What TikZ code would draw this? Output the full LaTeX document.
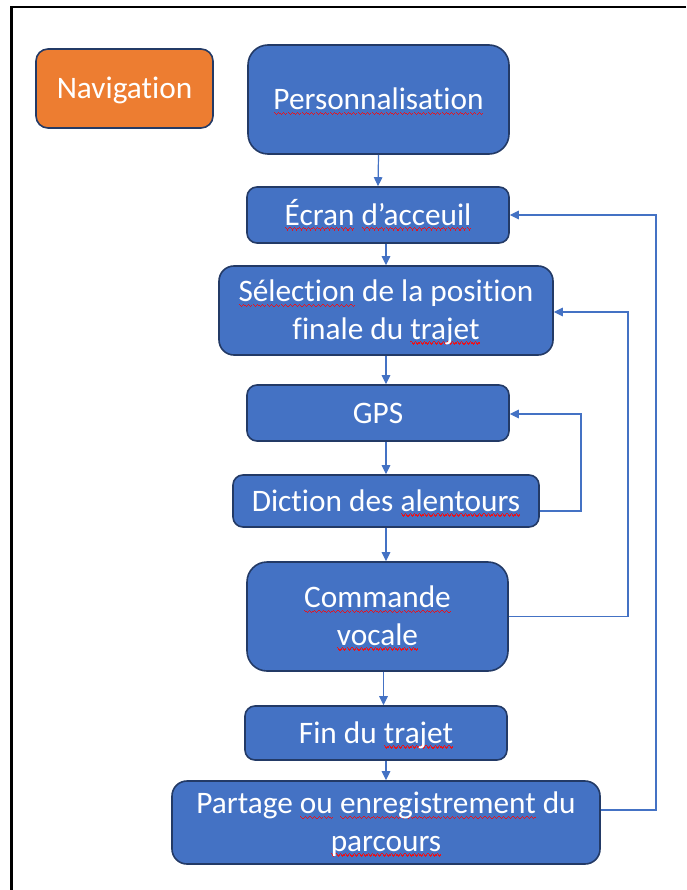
\documentclass[tikz,border=0pt]{standalone}
\usepackage{fontspec}
\setmainfont[Ligatures=NoCommon]{Carlito}
\usetikzlibrary{arrows.meta}

\definecolor{boxblue}{HTML}{4472C4}
\definecolor{boxline}{HTML}{233A66}
\definecolor{navorange}{HTML}{ED7D31}
\definecolor{linkblue}{HTML}{4472C4}
\definecolor{sqred}{HTML}{E8131C}

\newcommand\boxfont{\fontsize{31.3}{37.5}\selectfont}

% one period of a red spell-check wave, built from short rules
\newcommand\wavecell{%
  \vrule width1.15pt height-2.1pt depth3.3pt
  \vrule width1.15pt height-3.2pt depth4.4pt
  \vrule width1.15pt height-4.3pt depth5.5pt
  \vrule width1.15pt height-3.2pt depth4.4pt}
% word with a wavy underline
\newcommand\sq[1]{\setbox0\hbox{#1}%
  \rlap{\textcolor{sqred}{\hbox to\wd0{\xleaders\hbox{\wavecell}\hfill}}}%
  \box0\relax}

\begin{document}
\begin{tikzpicture}[x=1pt,y=-1pt,
  base/.style={draw=boxline, line width=1.6pt, text=white, inner sep=0pt,
    font=\boxfont, align=center},
  oneline/.style={base, text height=20.2pt, text depth=0pt},
  twoline/.style={base, text height=57.2pt, text depth=0pt},
  stepbox/.style={fill=boxblue, minimum width=#1},
  link/.style={draw=linkblue, line width=1.2pt, -{Triangle[length=9pt,width=8.5pt]}},
]
\useasboundingbox (0,0) rectangle (686,890);

% page frame
\draw[line width=2.2pt] (686,7) -- (11.5,7) -- (11.5,890);

% title tag
\node[oneline, fill=navorange, minimum width=177pt, minimum height=79pt,
      rounded corners=12pt] (nav) at (124.5,88.5) {Navigation};

% steps of the flow
\node[oneline, stepbox=261pt, minimum height=109pt, rounded corners=20pt]
  (pers) at (378.5,99.5) {\sq{Personnalisation}};
\node[oneline, stepbox=262pt, minimum height=56pt, rounded corners=10pt]
  (ecran) at (378,215) {\sq{Écran} \sq{d’acceuil}};
\node[twoline, stepbox=334pt, minimum height=89pt, rounded corners=15pt]
  (sel) at (386,310.5) {\sq{Sélection} de la position\\finale du \sq{trajet}};
\node[oneline, stepbox=262pt, minimum height=56pt, rounded corners=10pt]
  (gps) at (378,413) {GPS};
\node[oneline, stepbox=306pt, minimum height=52pt, rounded corners=10pt]
  (dic) at (386,501) {Diction des \sq{alentours}};
\node[twoline, stepbox=261pt, minimum height=109pt, rounded corners=20pt]
  (cmd) at (377.5,616.5) {\sq{Commande}\\\sq{vocale}};
\node[oneline, stepbox=262pt, minimum height=54pt, rounded corners=10pt]
  (fin) at (376,733) {Fin du \sq{trajet}};
\node[twoline, stepbox=428pt, minimum height=83pt, rounded corners=15pt]
  (part) at (386,822.5) {Partage \sq{ou} \sq{enregistrement} du\\\sq{parcours}};

% forward arrows
\draw[link] (pers.south) -- (ecran.north);
\draw[link] (ecran.south -| sel.north) -- (sel.north);
\draw[link] (sel.south) -- (sel.south |- gps.north);
\draw[link] (gps.south -| dic.north) -- (dic.north);
\draw[link] (dic.south) -- (dic.south |- cmd.north);
\draw[link] ([xshift=6pt]cmd.south) -- ([xshift=6pt]cmd.south |- fin.north);
\draw[link] (fin.south -| part.north) -- (part.north);

% feedback loops
\coordinate (loopA) at (581,0);
\coordinate (loopB) at (628,0);
\coordinate (loopC) at (656,0);
\draw[link] ([yshift=-10pt]dic.east) -- ([yshift=-10pt]dic.east -| loopA)
  |- ([yshift=-1pt]gps.east);
\draw[link] (cmd.east) -- (cmd.east -| loopB) |- ([yshift=-1.5pt]sel.east);
\draw[link] ([yshift=12.5pt]part.east) -- ([yshift=12.5pt]part.east -| loopC)
  |- (ecran.east);
\end{tikzpicture}
\end{document}
